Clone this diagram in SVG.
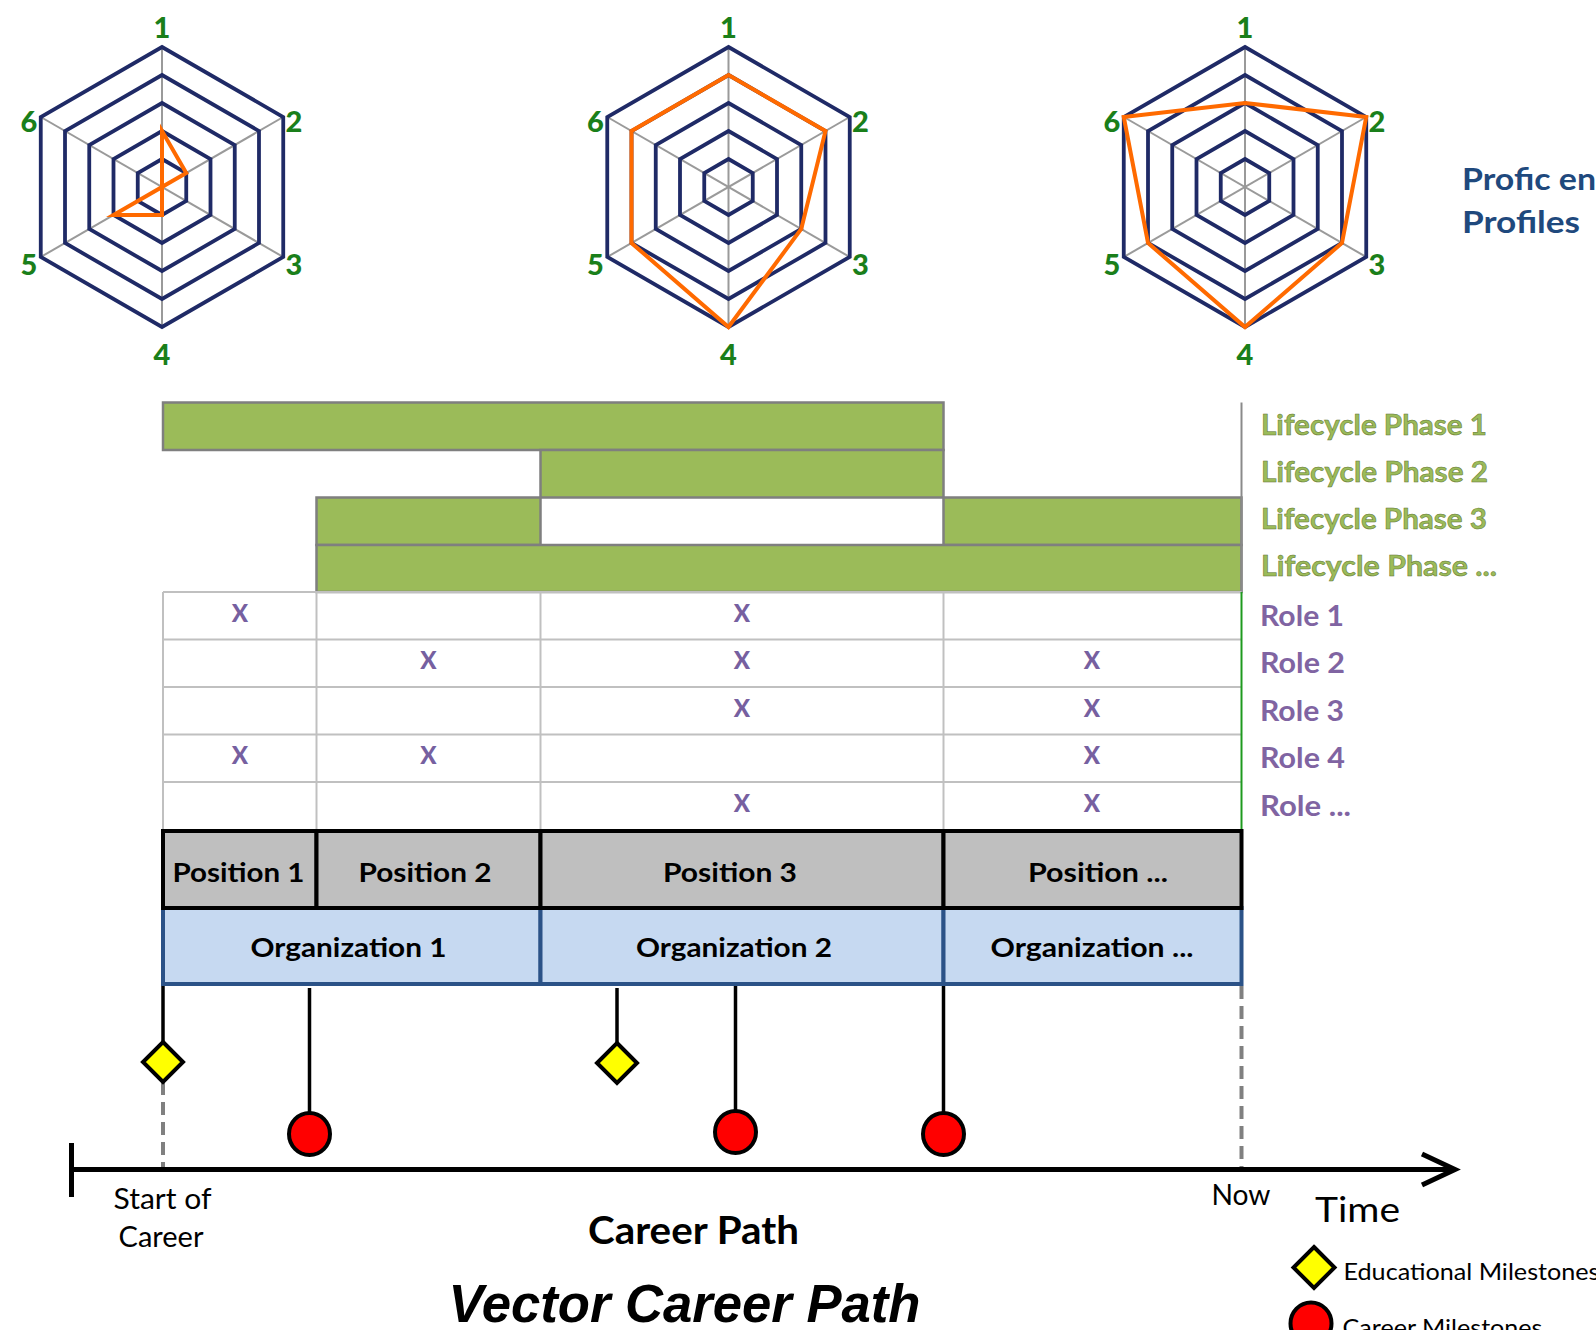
<svg xmlns="http://www.w3.org/2000/svg" xmlns:xlink="http://www.w3.org/1999/xlink" width="1596" height="1330" viewBox="0 0 1596 1330">
<style>
text{font-family:Lato,"Open Sans","Liberation Sans",sans-serif}
text.arial{font-family:"Liberation Sans",Arial,sans-serif}
.ring{fill:none;stroke:#1F2A66;stroke-width:3.8}
.axis{stroke:#9A9A9A;stroke-width:2}
.prof{fill:none;stroke:#FF6A00;stroke-width:4;stroke-linejoin:miter}
.num{font-weight:900;font-size:29px;fill:#1A7F1A;text-anchor:middle}
.phase{fill:#9BBB59;stroke:#7F7F7F;stroke-width:2.5}
.plbl{font-weight:700;font-size:28px;fill:#9BBB59;stroke:#5E7431;stroke-width:0.5}
.rlbl{font-weight:700;font-size:28px;fill:#8064A2}
.xm{font-weight:900;font-size:24px;fill:#7660A0;text-anchor:middle}
.grid{stroke:#C0C0C0;stroke-width:2}
.pos{fill:#BFBFBF;stroke:#000;stroke-width:4}
.org{fill:#C6D9F1;stroke:#2B5287;stroke-width:4}
.btxt{font-weight:700;font-size:26px;fill:#000;text-anchor:middle}
.stick{stroke:#000;stroke-width:3.5}
.dash{stroke:#808080;stroke-width:4;stroke-dasharray:13 7}
.dia{fill:#FFFF00;stroke:#000;stroke-width:4}
.cm{fill:#FF0000;stroke:#000;stroke-width:4}
.reg{font-size:28px;fill:#000}
</style>
<defs>
<g id="radar">
<line class="axis" x1="0" y1="-140" x2="0" y2="140"/>
<line class="axis" x1="121.24" y1="-70" x2="-121.24" y2="70"/>
<line class="axis" x1="121.24" y1="70" x2="-121.24" y2="-70"/>
<polygon class="ring" points="0,-140 121.24,-70 121.24,70 0,140 -121.24,70 -121.24,-70"/>
<polygon class="ring" points="0,-112 96.99,-56 96.99,56 0,112 -96.99,56 -96.99,-56"/>
<polygon class="ring" points="0,-84 72.75,-42 72.75,42 0,84 -72.75,42 -72.75,-42"/>
<polygon class="ring" points="0,-56 48.5,-28 48.5,28 0,56 -48.5,28 -48.5,-28"/>
<polygon class="ring" points="0,-28 24.25,-14 24.25,14 0,28 -24.25,14 -24.25,-14"/>
<text class="num" x="0" y="-149">1</text>
<text class="num" x="132" y="-55.5">2</text>
<text class="num" x="132" y="88">3</text>
<text class="num" x="0" y="178">4</text>
<text class="num" x="-133" y="88">5</text>
<text class="num" x="-133" y="-55.5">6</text>
</g>
</defs>

<g id="radar1" transform="translate(162,187)">
<use xlink:href="#radar" href="#radar"/>
<polygon class="prof" points="0,-56 24.25,-14 0,0 0,28 -48.5,28 0,0"/>
</g>
<g id="radar2" transform="translate(728.5,187)">
<use xlink:href="#radar" href="#radar"/>
<polygon class="prof" points="0,-112 96.99,-56 72.75,42 0,140 -96.99,56 -96.99,-56"/>
</g>
<g id="radar3" transform="translate(1245,187)">
<use xlink:href="#radar" href="#radar"/>
<polygon class="prof" points="0,-84 121.24,-70 96.99,56 0,140 -96.99,56 -121.24,-70"/>
</g>
<g id="profiles-title">
<text x="1462" y="190" font-weight="700" font-size="30" fill="#1F497D" textLength="134" lengthAdjust="spacingAndGlyphs">Profic en</text>
<text x="1462" y="233" font-weight="700" font-size="30" fill="#1F497D" textLength="118" lengthAdjust="spacingAndGlyphs">Profiles</text>
</g>

<g id="phases">
<rect class="phase" x="163" y="402.5" width="780.5" height="47.5"/>
<rect class="phase" x="540.5" y="450" width="403" height="47.5"/>
<rect class="phase" x="316.5" y="497.5" width="224" height="47.5"/>
<rect class="phase" x="943.5" y="497.5" width="298" height="47.5"/>
<rect class="phase" x="316.5" y="545" width="925" height="47"/>
<line x1="1241.5" y1="402.5" x2="1241.5" y2="592" stroke="#8A8A8A" stroke-width="2"/>
</g>
<g id="phase-labels">
<text class="plbl" x="1261" y="435" textLength="226" lengthAdjust="spacingAndGlyphs">Lifecycle Phase 1</text>
<text class="plbl" x="1261" y="482" textLength="227" lengthAdjust="spacingAndGlyphs">Lifecycle Phase 2</text>
<text class="plbl" x="1261" y="529" textLength="226" lengthAdjust="spacingAndGlyphs">Lifecycle Phase 3</text>
<text class="plbl" x="1261" y="576" textLength="236" lengthAdjust="spacingAndGlyphs">Lifecycle Phase ...</text>
</g>

<g id="roles-grid">
<line class="grid" x1="163" y1="592" x2="1241.5" y2="592"/>
<line class="grid" x1="163" y1="639.5" x2="1241.5" y2="639.5"/>
<line class="grid" x1="163" y1="687" x2="1241.5" y2="687"/>
<line class="grid" x1="163" y1="734.5" x2="1241.5" y2="734.5"/>
<line class="grid" x1="163" y1="782" x2="1241.5" y2="782"/>
<line class="grid" x1="163" y1="592" x2="163" y2="830"/>
<line class="grid" x1="316.5" y1="592" x2="316.5" y2="830"/>
<line class="grid" x1="540.5" y1="592" x2="540.5" y2="830"/>
<line class="grid" x1="943.5" y1="592" x2="943.5" y2="830"/>
<line x1="1241.5" y1="592" x2="1241.5" y2="830" stroke="#1E9A1E" stroke-width="2"/>
<text class="xm" x="240" y="621.7">X</text>
<text class="xm" x="742" y="621.7">X</text>
<text class="xm" x="428.5" y="669.2">X</text>
<text class="xm" x="742" y="669.2">X</text>
<text class="xm" x="1092" y="669.2">X</text>
<text class="xm" x="742" y="716.7">X</text>
<text class="xm" x="1092" y="716.7">X</text>
<text class="xm" x="240" y="764.2">X</text>
<text class="xm" x="428.5" y="764.2">X</text>
<text class="xm" x="1092" y="764.2">X</text>
<text class="xm" x="742" y="811.7">X</text>
<text class="xm" x="1092" y="811.7">X</text>
</g>
<g id="role-labels">
<text class="rlbl" x="1260" y="625.5" textLength="84" lengthAdjust="spacingAndGlyphs">Role 1</text>
<text class="rlbl" x="1260" y="673" textLength="85" lengthAdjust="spacingAndGlyphs">Role 2</text>
<text class="rlbl" x="1260" y="720.5" textLength="84" lengthAdjust="spacingAndGlyphs">Role 3</text>
<text class="rlbl" x="1260" y="768" textLength="85" lengthAdjust="spacingAndGlyphs">Role 4</text>
<text class="rlbl" x="1260" y="815.5" textLength="91" lengthAdjust="spacingAndGlyphs">Role ...</text>
</g>

<g id="organizations">
<rect class="org" x="163" y="908" width="377.5" height="76"/>
<rect class="org" x="540.5" y="908" width="403" height="76"/>
<rect class="org" x="943.5" y="908" width="298" height="76"/>
<text class="btxt" x="348.5" y="957" textLength="196" lengthAdjust="spacingAndGlyphs">Organization 1</text>
<text class="btxt" x="734" y="957" textLength="196" lengthAdjust="spacingAndGlyphs">Organization 2</text>
<text class="btxt" x="1092" y="957" textLength="203" lengthAdjust="spacingAndGlyphs">Organization ...</text>
</g>
<g id="positions">
<rect class="pos" x="163" y="831" width="153.5" height="77"/>
<rect class="pos" x="316.5" y="831" width="224" height="77"/>
<rect class="pos" x="540.5" y="831" width="403" height="77"/>
<rect class="pos" x="943.5" y="831" width="298" height="77"/>
<text class="btxt" x="238.5" y="881.7" textLength="132" lengthAdjust="spacingAndGlyphs">Position 1</text>
<text class="btxt" x="425" y="881.7" textLength="133" lengthAdjust="spacingAndGlyphs">Position 2</text>
<text class="btxt" x="730" y="881.7" textLength="134" lengthAdjust="spacingAndGlyphs">Position 3</text>
<text class="btxt" x="1098" y="881.7" textLength="140" lengthAdjust="spacingAndGlyphs">Position ...</text>
</g>

<g id="connectors">
<line class="stick" x1="163" y1="986" x2="163" y2="1042"/>
<line class="dash" x1="163" y1="1082" x2="163" y2="1168"/>
<line class="stick" x1="309.5" y1="988" x2="309.5" y2="1113"/>
<line class="stick" x1="617" y1="988" x2="617" y2="1043"/>
<line class="stick" x1="735.5" y1="986" x2="735.5" y2="1111"/>
<line class="stick" x1="943.5" y1="986" x2="943.5" y2="1113"/>
<line class="dash" x1="1241.5" y1="986" x2="1241.5" y2="1168"/>
</g>

<g id="timeline">
<line x1="71" y1="1169.5" x2="1454" y2="1169.5" stroke="#000" stroke-width="5"/>
<line x1="71.5" y1="1143" x2="71.5" y2="1197" stroke="#000" stroke-width="5"/>
<polyline points="1422,1154 1455,1169.5 1422,1185" fill="none" stroke="#000" stroke-width="5"/>
</g>

<g id="milestone-edu1"><polygon class="dia" points="163,1042 183,1062 163,1082 143,1062"/></g>
<g id="milestone-career1"><ellipse class="cm" cx="309.5" cy="1134" rx="20.5" ry="21"/></g>
<g id="milestone-edu2"><polygon class="dia" points="617,1043 637,1063 617,1083 597,1063"/></g>
<g id="milestone-career2"><ellipse class="cm" cx="735.5" cy="1132" rx="20.5" ry="21"/></g>
<g id="milestone-career3"><ellipse class="cm" cx="943.5" cy="1134" rx="20.5" ry="21"/></g>

<g id="labels">
<text class="reg" x="162.5" y="1209" text-anchor="middle" textLength="98" lengthAdjust="spacingAndGlyphs">Start of</text>
<text class="reg" x="161" y="1247" text-anchor="middle" textLength="85" lengthAdjust="spacingAndGlyphs">Career</text>
<text class="reg" x="1241" y="1205" text-anchor="middle" textLength="59" lengthAdjust="spacingAndGlyphs">Now</text>
<text x="1315" y="1222" font-size="35" fill="#000" textLength="85" lengthAdjust="spacingAndGlyphs">Time</text>
<text x="693.5" y="1244" font-size="37.5" font-weight="700" fill="#000" text-anchor="middle" textLength="211" lengthAdjust="spacingAndGlyphs">Career Path</text>
<text class="arial" x="684.5" y="1322" font-size="53" font-weight="700" font-style="italic" fill="#000" text-anchor="middle" textLength="472" lengthAdjust="spacingAndGlyphs">Vector Career Path</text>
</g>

<g id="legend">
<polygon class="dia" points="1314,1247 1334.5,1267.5 1314,1288 1293.5,1267.5"/>
<text x="1343.5" y="1280" font-size="24" fill="#000" textLength="256" lengthAdjust="spacingAndGlyphs">Educational Milestones</text>
<ellipse class="cm" cx="1311" cy="1323.5" rx="20.5" ry="21"/>
<text x="1342.5" y="1336" font-size="24" fill="#000" textLength="200" lengthAdjust="spacingAndGlyphs">Career Milestones</text>
</g>
</svg>
